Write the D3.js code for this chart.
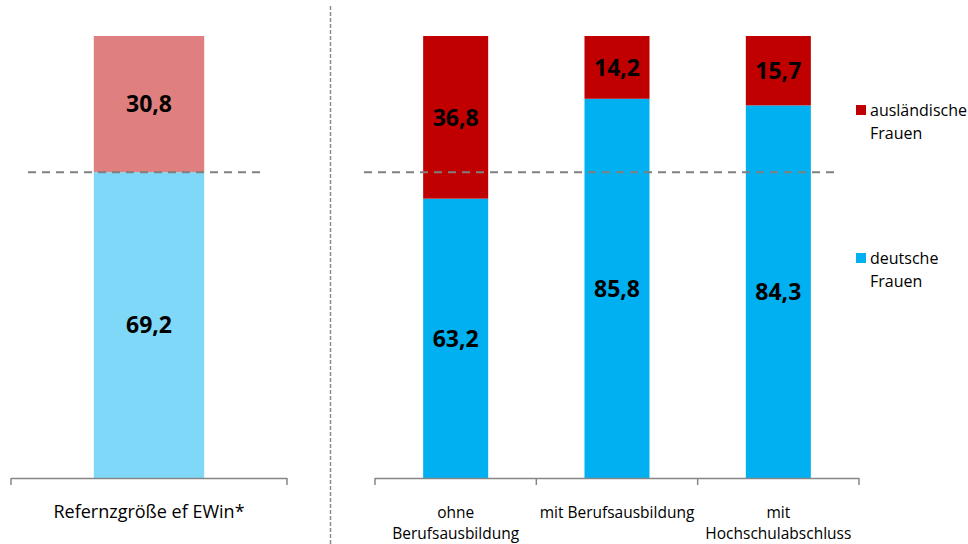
<!DOCTYPE html>
<html><head><meta charset="utf-8">
<script src="https://cdn.jsdelivr.net/npm/d3@7"></script>
<style>
body{margin:0;background:#fff;}
text{font-family:"Open Sans",Lato,sans-serif;}
</style></head>
<body><svg id="c" width="968" height="544"></svg>
<script>
// ---- data ----
const refCategory = ["Refernzgröße ef EWin*"];
const refDeutsche = [69.2];
const refAuslaendisch = [30.8];

const categories = ["ohne Berufsausbildung", "mit Berufsausbildung", "mit Hochschulabschluss"];
const categoryLines = [["ohne", "Berufsausbildung"], ["mit Berufsausbildung"], ["mit", "Hochschulabschluss"]];
const deutsche = [63.2, 85.8, 84.3];
const auslaendisch = [36.8, 14.2, 15.7];
const referenceLine = 69.2;

const legendLabels = [["ausländische", "Frauen"], ["deutsche", "Frauen"]];
const fmt = v => String(v.toFixed(1)).replace(".", ",");

// ---- chart ----
const svg = d3.select("#c");
const y = d3.scaleLinear().domain([0, 100]).range([478, 36]);

function panel(cats, lines, deu, aus, x0, x1, colDeu, colAus, refX0, refX1, pi, po, labSize) {
  const x = d3.scaleBand().domain(cats).range([x0, x1]).paddingInner(pi).paddingOuter(po);
  const g = svg.append("g");
  const rows = cats.map((c, i) => ({c, deu: deu[i], aus: aus[i], lines: lines[i]}));
  g.selectAll(".deu").data(rows).join("rect")
    .attr("x", d => x(d.c)).attr("width", x.bandwidth())
    .attr("y", d => y(d.deu)).attr("height", d => y(0) - y(d.deu))
    .attr("fill", colDeu);
  g.selectAll(".aus").data(rows).join("rect")
    .attr("x", d => x(d.c)).attr("width", x.bandwidth())
    .attr("y", d => y(d.deu + d.aus)).attr("height", d => y(d.deu) - y(d.deu + d.aus))
    .attr("fill", colAus);
  g.selectAll(".ld").data(rows).join("text")
    .attr("x", d => x(d.c) + x.bandwidth() / 2)
    .attr("y", d => (y(0) + y(d.deu)) / 2)
    .attr("dy", "0.36em").attr("text-anchor", "middle")
    .attr("font-weight", "bold").attr("font-size", 23).attr("fill", "#000")
    .text(d => fmt(d.deu));
  g.selectAll(".la").data(rows).join("text")
    .attr("x", d => x(d.c) + x.bandwidth() / 2)
    .attr("y", d => (y(d.deu) + y(d.deu + d.aus)) / 2)
    .attr("dy", "0.36em").attr("text-anchor", "middle")
    .attr("font-weight", "bold").attr("font-size", 23).attr("fill", "#000")
    .text(d => fmt(d.aus));
  g.append("line").attr("x1", refX0).attr("x2", refX1)
    .attr("y1", y(referenceLine)).attr("y2", y(referenceLine))
    .attr("stroke", "#7f7f7f").attr("stroke-width", 2).attr("stroke-dasharray", "8,6");
  const bounds = d3.range(cats.length + 1).map(i => x0 + i * (x1 - x0) / cats.length);
  g.append("line").attr("x1", x0).attr("x2", x1).attr("y1", y(0) + 0.5).attr("y2", y(0) + 0.5)
    .attr("stroke", "#868686").attr("stroke-width", 1.5);
  g.selectAll(".tk").data(bounds).join("line")
    .attr("x1", d => d).attr("x2", d => d).attr("y1", y(0)).attr("y2", y(0) + 7)
    .attr("stroke", "#868686").attr("stroke-width", 1.5);
  const lab = g.selectAll(".cl").data(rows).join("text")
    .attr("text-anchor", "middle").attr("font-size", labSize).attr("fill", "#000");
  lab.each(function(d) {
    const t = d3.select(this);
    d.lines.forEach((ln, k) => {
      t.append("tspan").attr("x", x(d.c) + x.bandwidth() / 2)
        .attr("y", 518 + k * 21)
        .text(ln);
    });
  });
}

panel(refCategory, [[refCategory[0]]], refDeutsche, refAuslaendisch, 11, 287,
  "#80d8f8", "#e07f7f", 28, 262, 0.6, 0.3, 18);
panel(categories, categoryLines, deutsche, auslaendisch, 375, 859,
  "#00b0f0", "#c00000", 364, 836, 0.597, 0.2985, 15.5);

svg.append("line").attr("x1", 330.5).attr("x2", 330.5).attr("y1", 6).attr("y2", 544)
  .attr("stroke", "#8c8c8c").attr("stroke-width", 1.5).attr("stroke-dasharray", "4,2");

const legColors = ["#c00000", "#00b0f0"];
const legY = [110, 258];
const leg = svg.append("g");
legendLabels.forEach((lines, i) => {
  leg.append("rect").attr("x", 856).attr("y", legY[i] - 5).attr("width", 10).attr("height", 10)
    .attr("fill", legColors[i]);
  lines.forEach((ln, k) => {
    leg.append("text").attr("x", 870).attr("y", legY[i] + k * 23).attr("dy", "0.35em")
      .attr("font-size", 16).attr("fill", "#000").text(ln);
  });
});
</script></body></html>
